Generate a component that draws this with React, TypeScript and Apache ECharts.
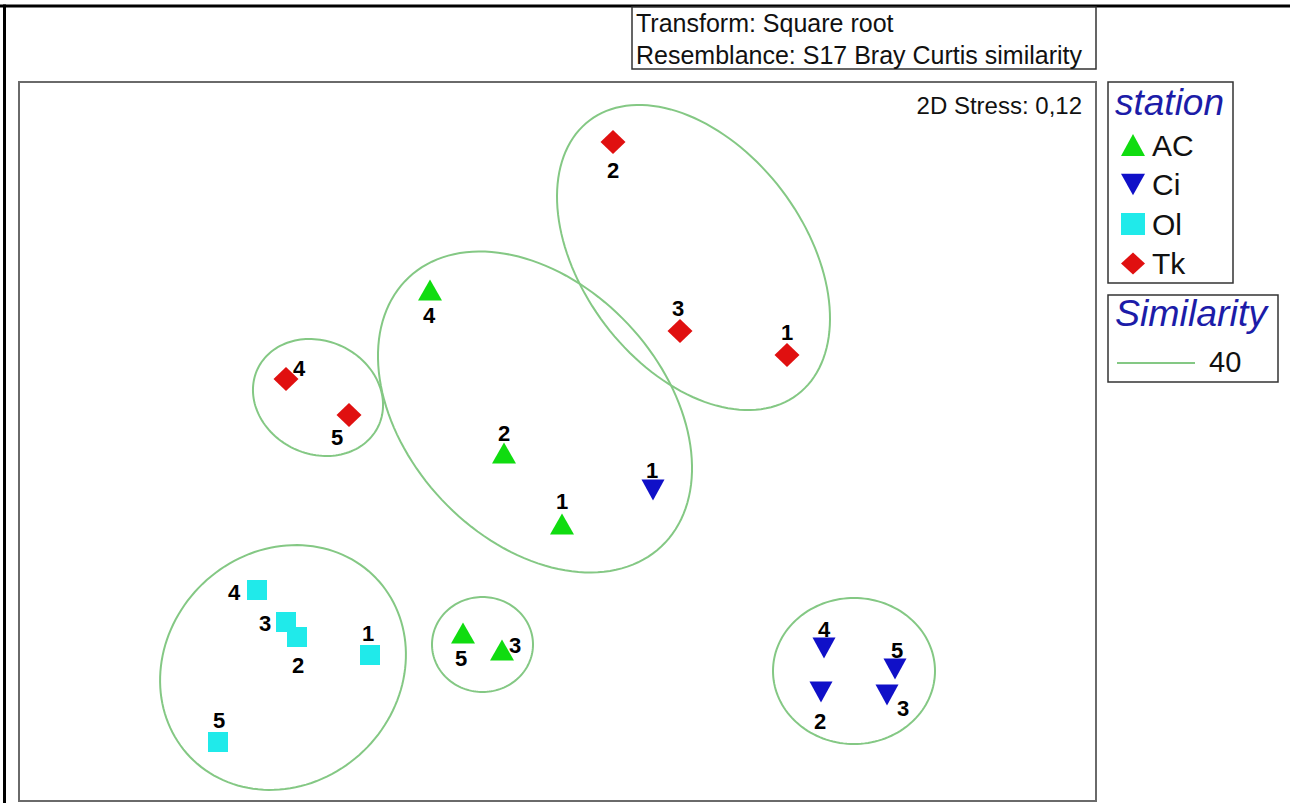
import React, { useEffect, useRef } from 'react';
import * as echarts from 'echarts';

// nMDS ordination coordinates (arbitrary units), samples 1..5 per station
const SAMPLE_IDS = ['1', '2', '3', '4', '5'];
const STATIONS = ['AC', 'Ci', 'Ol', 'Tk'];
const AC_POINTS = [[0.045, -0.825], [-0.535, -0.115], [-0.555, -2.085], [-1.275, 1.515], [-0.945, -1.915]];
const CI_POINTS = [[0.955, -0.485], [2.635, -2.505], [3.295, -2.535], [2.665, -2.065], [3.375, -2.275]];
const OL_POINTS = [[-1.875, -2.135], [-2.605, -1.955], [-2.715, -1.805], [-3.005, -1.485], [-3.395, -3.005]];
const TK_POINTS = [[2.295, 0.865], [0.555, 2.995], [1.225, 1.105], [-2.715, 0.625], [-2.085, 0.265]];

// 40% similarity contours: centre, semi-axes, orientation (degrees, counter-clockwise)
const CONTOUR_CX = [-2.745, -0.75, 2.965, -2.395, -0.225, 1.36];
const CONTOUR_CY = [-2.26, -2.03, -2.295, 0.44, 0.295, 1.84];
const CONTOUR_A = [1.29, 0.505, 0.81, 0.668, 1.845, 1.72];
const CONTOUR_B = [1.16, 0.475, 0.73, 0.565, 1.28, 1.11];
const CONTOUR_ANGLE = [43.9, 0, 0, -25.3, -46.8, -52.8];
const SIMILARITY_LEVEL = '40';

const TITLE_LINES = ['Transform: Square root', 'Resemblance: S17 Bray Curtis similarity'];
const STRESS_TEXT = '2D Stress: 0,12';

// label placement (pixel offsets from the marker centre) — styling only
const LABEL_OFFSETS: Record<string, number[][]> = {
  AC: [[0, -23], [0, -20], [13, -5], [-1, 25], [-2, 25]],
  Ci: [[-1, -20], [-1, 29], [16, 13], [0, -19], [2, -19]],
  Ol: [[-2, -22], [1, 28], [-21, 1], [-23, 2], [1, -22]],
  Tk: [[0, -23], [0, 28], [-2, -23], [13, -11], [-12, 22]],
};

const FONT = '"Liberation Sans", Arial, Helvetica, sans-serif';

export default function App() {
  const ref = useRef<HTMLDivElement>(null);

  useEffect(() => {
    if (!ref.current) return;
    const chart = echarts.init(ref.current, undefined, { renderer: 'svg' });

    const pointSets: Record<string, number[][]> = { AC: AC_POINTS, Ci: CI_POINTS, Ol: OL_POINTS, Tk: TK_POINTS };
    const styles: Record<string, any> = {
      AC: { symbol: 'triangle', size: [24, 21], rotate: 0, color: '#10dc10', icon: 'triangle' },
      Ci: { symbol: 'triangle', size: [23, 21], rotate: 180, color: '#1010c8', icon: 'path://M0,0L10,0L5,9Z' },
      Ol: { symbol: 'rect', size: [20, 20], rotate: 0, color: '#20eaea', icon: 'rect' },
      Tk: { symbol: 'diamond', size: [25, 24], rotate: 0, color: '#e01010', icon: 'diamond' },
    };

    const scatterSeries = STATIONS.map((st) => ({
      name: st,
      type: 'scatter',
      symbol: styles[st].symbol,
      symbolSize: styles[st].size,
      symbolRotate: styles[st].rotate,
      itemStyle: { color: styles[st].color, opacity: 1 },
      z: 5,
      data: pointSets[st].map((p, i) => ({
        value: [p[0], p[1]],
        name: SAMPLE_IDS[i],
        label: {
          show: true,
          position: 'inside',
          offset: LABEL_OFFSETS[st][i],
          formatter: SAMPLE_IDS[i],
          color: '#000',
          fontWeight: 'bold',
          fontSize: 22,
          fontFamily: FONT,
        },
      })),
    }));

    const contourData = CONTOUR_CX.map((cx, i) => [cx, CONTOUR_CY[i], CONTOUR_A[i], CONTOUR_B[i], CONTOUR_ANGLE[i]]);

    const contourSeries = {
      name: 'Similarity ' + SIMILARITY_LEVEL,
      type: 'custom',
      silent: true,
      z: 2,
      encode: { x: 0, y: 1 },
      data: contourData,
      renderItem: (params: any, api: any) => {
        const c = api.coord([api.value(0), api.value(1)]);
        const sz = api.size([api.value(2), api.value(3)]);
        const ra = sz[0];
        const rb = sz[1];
        const th = (-api.value(4) * Math.PI) / 180; // screen y points down
        const ct = Math.cos(th);
        const stn = Math.sin(th);
        const pts: number[][] = [];
        const n = 144;
        for (let k = 0; k < n; k++) {
          const t = (k / n) * Math.PI * 2;
          const u = ra * Math.cos(t);
          const v = rb * Math.sin(t);
          pts.push([c[0] + u * ct - v * stn, c[1] + u * stn + v * ct]);
        }
        return {
          type: 'polygon',
          shape: { points: pts },
          style: { fill: 'none', stroke: '#84c884', lineWidth: 2 },
        };
      },
    };

    const option: any = {
      animation: false,
      backgroundColor: '#ffffff',
      grid: {
        left: 19,
        top: 82,
        width: 1077,
        height: 719,
        show: true,
        borderColor: '#6a6a6a',
        borderWidth: 2,
        backgroundColor: 'transparent',
      },
      xAxis: { type: 'value', min: -5.385, max: 5.385, show: false },
      yAxis: { type: 'value', min: -3.595, max: 3.595, show: false },
      legend: {
        data: STATIONS.map((st) => ({ name: st, icon: styles[st].icon })),
        orient: 'vertical',
        left: 1116,
        top: 125,
        itemWidth: 24,
        itemHeight: 22,
        itemGap: 9.5,
        selectedMode: false,
        textStyle: { fontSize: 30, lineHeight: 28, color: '#111', fontFamily: FONT, padding: [0, 0, 0, 2] },
      },
      graphic: [
        { type: 'line', shape: { x1: 0, y1: 6, x2: 1290, y2: 6 }, style: { stroke: '#000', lineWidth: 3 } },
        { type: 'line', shape: { x1: 4.5, y1: 4.5, x2: 4.5, y2: 803 }, style: { stroke: '#000', lineWidth: 3 } },
        {
          type: 'rect',
          shape: { x: 632, y: 7, width: 464, height: 62 },
          style: { fill: '#fff', stroke: '#333', lineWidth: 1.5 },
        },
        {
          type: 'text',
          x: 636,
          y: 23,
          style: { text: TITLE_LINES[0], fontSize: 25, fontFamily: FONT, fill: '#111', verticalAlign: 'middle' },
        },
        {
          type: 'text',
          x: 636,
          y: 54.5,
          style: { text: TITLE_LINES[1], fontSize: 25, fontFamily: FONT, fill: '#111', verticalAlign: 'middle' },
        },
        {
          type: 'text',
          x: 1082,
          y: 105,
          style: { text: STRESS_TEXT, fontSize: 24, fontFamily: FONT, fill: '#111', align: 'right', verticalAlign: 'middle' },
        },
        {
          type: 'rect',
          shape: { x: 1108, y: 82, width: 125, height: 201 },
          style: { fill: 'none', stroke: '#333', lineWidth: 1.5 },
        },
        {
          type: 'text',
          x: 1115,
          y: 102,
          style: { text: 'station', fontSize: 37, fontStyle: 'italic', fontFamily: FONT, fill: '#1c1ca8', verticalAlign: 'middle' },
        },
        {
          type: 'rect',
          shape: { x: 1108, y: 295, width: 170, height: 87 },
          style: { fill: 'none', stroke: '#333', lineWidth: 1.5 },
        },
        {
          type: 'text',
          x: 1115,
          y: 313,
          style: { text: 'Similarity', fontSize: 37.5, fontStyle: 'italic', fontFamily: FONT, fill: '#1c1ca8', verticalAlign: 'middle' },
        },
        {
          type: 'line',
          shape: { x1: 1117, y1: 363, x2: 1195, y2: 363 },
          style: { stroke: '#84c884', lineWidth: 2 },
        },
        {
          type: 'text',
          x: 1209,
          y: 362,
          style: { text: SIMILARITY_LEVEL, fontSize: 29, fontFamily: FONT, fill: '#111', verticalAlign: 'middle' },
        },
      ],
      series: [contourSeries, ...scatterSeries],
    };

    chart.setOption(option);
    return () => chart.dispose();
  }, []);

  return (
    <div
      ref={ref}
      style={{ position: 'fixed', left: 0, top: 0, width: 1290, height: 803, background: '#fff' }}
    />
  );
}
